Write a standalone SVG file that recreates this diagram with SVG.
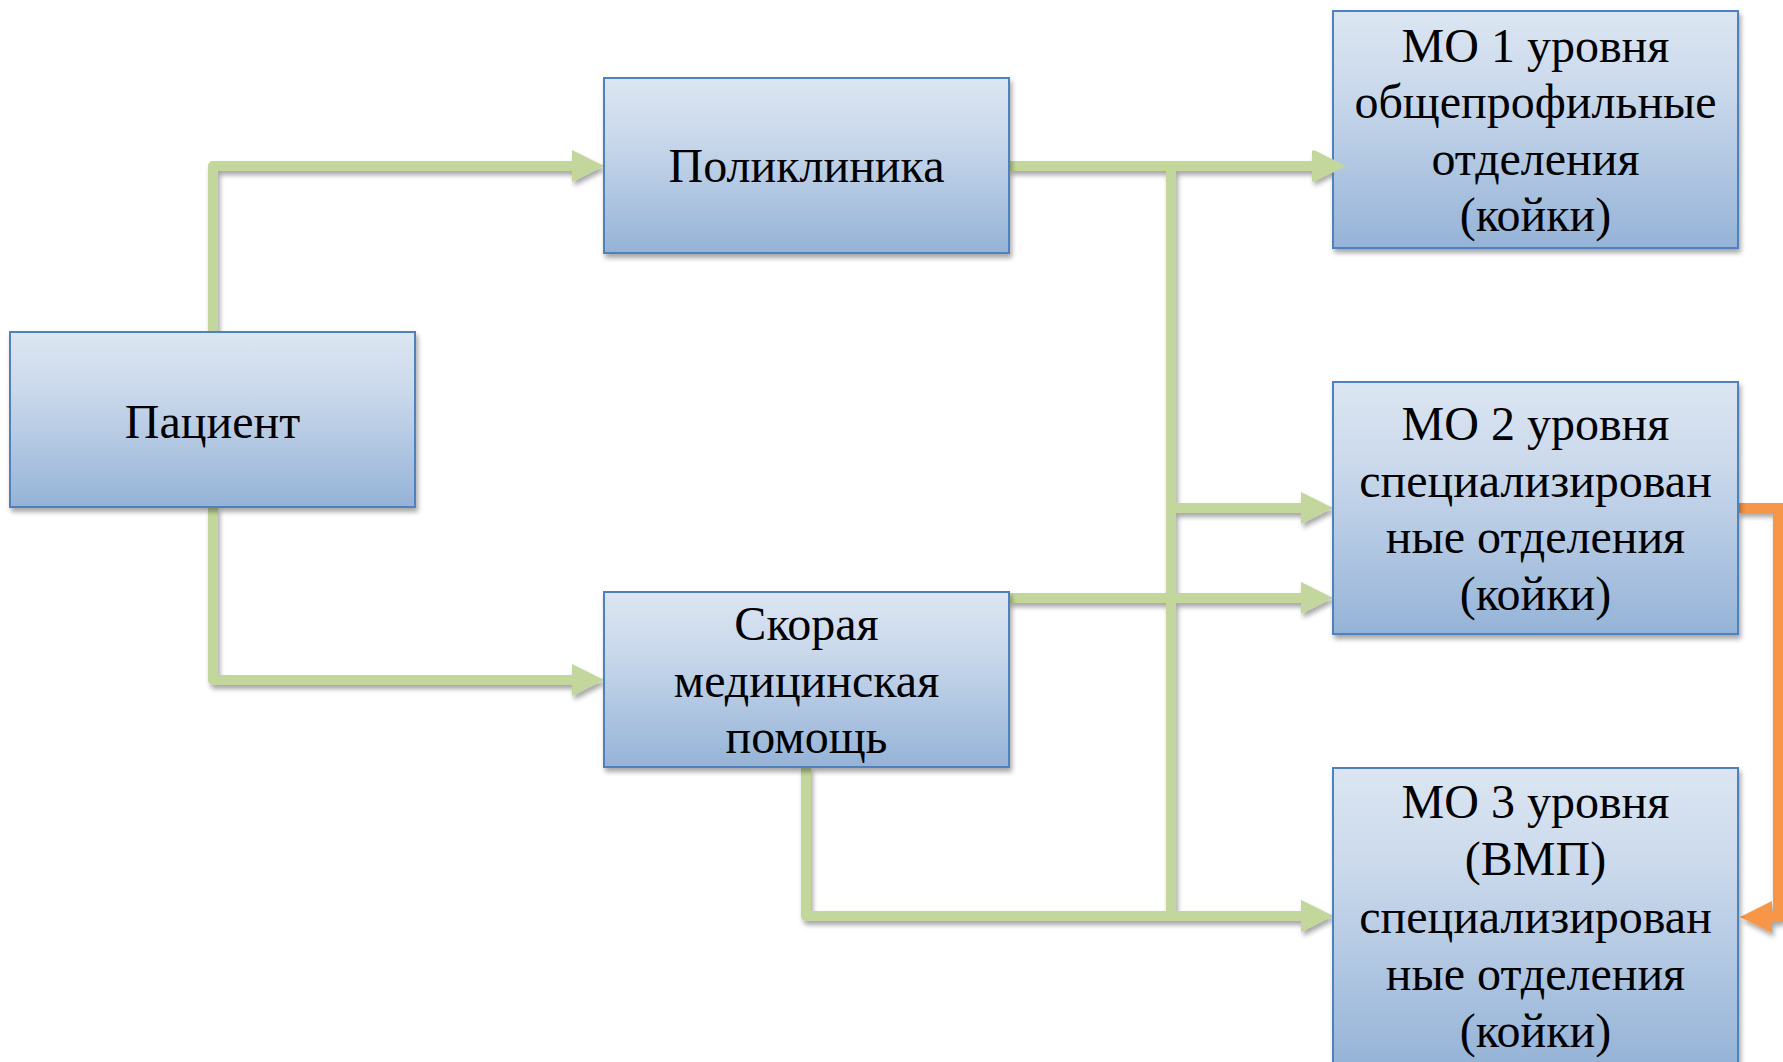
<svg xmlns="http://www.w3.org/2000/svg" width="1783" height="1062" viewBox="0 0 1783 1062">
  <defs>
    <linearGradient id="boxGrad" x1="0" y1="0" x2="0" y2="1">
      <stop offset="0" stop-color="#DCE6F2"/>
      <stop offset="0.35" stop-color="#C9D8EB"/>
      <stop offset="1" stop-color="#95B3D7"/>
    </linearGradient>
    <filter id="shadow" x="-10%" y="-10%" width="130%" height="130%">
      <feGaussianBlur in="SourceAlpha" stdDeviation="2.5"/>
      <feOffset dx="2" dy="4" result="b"/>
      <feComponentTransfer><feFuncA type="linear" slope="0.35"/></feComponentTransfer>
      <feMerge><feMergeNode/><feMergeNode in="SourceGraphic"/></feMerge>
    </filter>
    <marker id="arrowG" markerUnits="userSpaceOnUse" markerWidth="34" markerHeight="34" refX="2" refY="16" orient="auto" overflow="visible">
      <path d="M0,0 L32,16 L0,32 Z" fill="#C3D69B"/>
    </marker>
    <marker id="arrowO" markerUnits="userSpaceOnUse" markerWidth="34" markerHeight="34" refX="2" refY="16" orient="auto" overflow="visible">
      <path d="M0,0 L32,16 L0,32 Z" fill="#F79646"/>
    </marker>
    <style>
      .box { fill: url(#boxGrad); stroke: #4F81BD; stroke-width: 2; filter: url(#shadow); }
      .lbl { font-family: "Liberation Serif", "Times New Roman", serif; font-size: 48px; fill: #000; text-anchor: middle; }
      .g { fill: none; stroke: #C3D69B; stroke-width: 10; stroke-linejoin: round; marker-end: url(#arrowG); }
      .gn { fill: none; stroke: #C3D69B; stroke-width: 10; stroke-linejoin: round; }
      .o { fill: none; stroke: #F79646; stroke-width: 10; stroke-linejoin: miter; marker-end: url(#arrowO); }
    </style>
  </defs>

  <rect width="1783" height="1062" fill="#FFFFFF"/>

  <g id="connectors" filter="url(#shadow)">
    <path class="g" d="M213,332 V166 H574"/>
    <path class="g" d="M213,507 V680 H574"/>
    <path class="g" d="M1009,166 H1314"/>
    <path class="gn" d="M1009,166 H1171"/>
    <path class="g" d="M1171,166 V508 H1303"/>
    <path class="g" d="M1171,166 V916 H1303"/>
    <path class="g" d="M1009,598 H1303"/>
    <path class="g" d="M806,767 V916 H1303"/>
    <path class="o" d="M1738,508 H1778 V917 H1770"/>
  </g>

  <g id="node-patient">
    <rect class="box" x="10" y="332" width="405" height="175"/>
    <text class="lbl" x="212.5" y="438">Пациент</text>
  </g>

  <g id="node-poliklinika">
    <rect class="box" x="604" y="78" width="405" height="175"/>
    <text class="lbl" x="806.5" y="182">Поликлиника</text>
  </g>

  <g id="node-skoraya">
    <rect class="box" x="604" y="592" width="405" height="175"/>
    <text class="lbl" x="806.5" y="640">Скорая</text>
    <text class="lbl" x="806.5" y="697">медицинская</text>
    <text class="lbl" x="806.5" y="753">помощь</text>
  </g>

  <g id="node-mo1">
    <rect class="box" x="1333" y="11" width="405" height="237"/>
    <text class="lbl" x="1535.5" y="62">МО 1 уровня</text>
    <text class="lbl" x="1535.5" y="118">общепрофильные</text>
    <text class="lbl" x="1535.5" y="175">отделения</text>
    <text class="lbl" x="1535.5" y="231">(койки)</text>
  </g>

  <g id="node-mo2">
    <rect class="box" x="1333" y="382" width="405" height="252"/>
    <text class="lbl" x="1535.5" y="440">МО 2 уровня</text>
    <text class="lbl" x="1535.5" y="497">специализирован</text>
    <text class="lbl" x="1535.5" y="553">ные отделения</text>
    <text class="lbl" x="1535.5" y="610">(койки)</text>
  </g>

  <g id="node-mo3">
    <rect class="box" x="1333" y="768" width="405" height="300"/>
    <text class="lbl" x="1535.5" y="818">МО 3 уровня</text>
    <text class="lbl" x="1535.5" y="875">(ВМП)</text>
    <text class="lbl" x="1535.5" y="933">специализирован</text>
    <text class="lbl" x="1535.5" y="990">ные отделения</text>
    <text class="lbl" x="1535.5" y="1047">(койки)</text>
  </g>

  <g id="arrowheads-over">
    <path d="M1314,150 L1346,166 L1314,182 Z" fill="#C3D69B"/>
  </g>
</svg>
